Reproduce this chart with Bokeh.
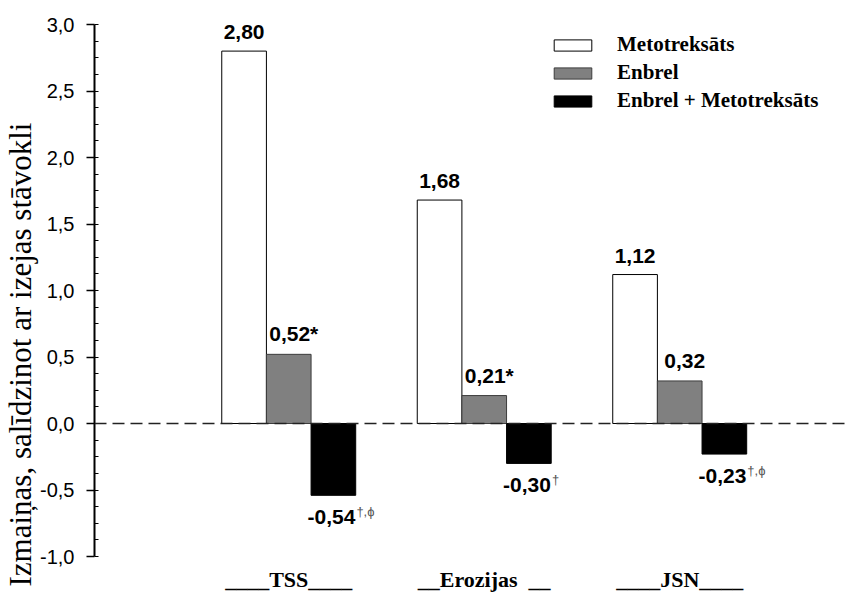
from bokeh.plotting import figure
from bokeh.models import (ColumnDataSource, Range1d, FixedTicker, LabelSet, Span,
                          Legend, LegendItem, Title)
from bokeh.core.properties import value
from bokeh.embed import file_html
from bokeh.resources import INLINE

# ---- data ----
categories = ["TSS", "Erozijas", "JSN"]
series_names = ["Metotreksāts", "Enbrel", "Enbrel + Metotreksāts"]
mtx = [2.80, 1.68, 1.12]
enbrel = [0.52, 0.21, 0.32]
combo = [-0.54, -0.30, -0.23]
mtx_labels = ["2,80", "1,68", "1,12"]
enbrel_labels = ["0,52*", "0,21*", "0,32"]
combo_labels = ["-0,54", "-0,30", "-0,23"]
combo_marks = ["†,ϕ", "†", "†,ϕ"]
y_ticks = [-1.0, -0.5, 0.0, 0.5, 1.0, 1.5, 2.0, 2.5, 3.0]
y_tick_labels = ["-1,0", "-0,5", "0,0", "0,5", "1,0", "1,5", "2,0", "2,5", "3,0"]
y_axis_title = "Izmaiņas, salīdzinot ar izejas stāvokli"

SERIF = "'Liberation Serif', 'Times New Roman', serif"

# ---- layout ----
group_x = list(range(len(categories)))
bw = 0.2284
off = [-bw, 0.0, bw]

p = figure(width=850, height=594, output_backend="svg", toolbar_location=None,
           x_range=Range1d(-0.9936, 2.8736), y_range=Range1d(-1.0, 3.0),
           min_border_left=93, min_border_right=0, min_border_top=24,
           min_border_bottom=37)
p.outline_line_color = None
p.xgrid.visible = False
p.ygrid.visible = False
p.background_fill_color = "white"
p.border_fill_color = "white"

# y axis
ya = p.yaxis[0]
ya.ticker = FixedTicker(ticks=y_ticks,
                        minor_ticks=[-1.0 + 0.125 * i for i in range(33)])
ya.major_label_overrides = {t: l for t, l in zip(y_ticks, y_tick_labels)}
ya.axis_line_width = 2
ya.axis_line_color = "black"
ya.major_tick_out = 8
ya.major_tick_in = 0
ya.major_tick_line_width = 1.5
ya.minor_tick_in = 4
ya.minor_tick_out = 0
ya.minor_tick_line_width = 1.2
ya.major_label_text_font = "Liberation Sans"
ya.major_label_text_font_size = "20px"
ya.major_label_text_color = "black"
ya.major_label_standoff = 12

# y axis title (side title so that it can start below the bottom of the axis)
p.add_layout(Title(text=y_axis_title, align="left", offset=-30, standoff=0,
                   text_font=SERIF, text_font_style="normal",
                   text_font_size="31px", text_color="black"), "left")

# x axis: category labels with rules either side
cat_text = ["____" + categories[0] + "____",
            "__" + categories[1] + "\u00a0\u00a0__",
            "____" + categories[2] + "____"]
xa = p.xaxis[0]
xa.ticker = FixedTicker(ticks=group_x, minor_ticks=[])
xa.major_label_overrides = {g: t for g, t in zip(group_x, cat_text)}
xa.axis_line_color = None
xa.major_tick_line_color = None
xa.minor_tick_line_color = None
xa.major_tick_out = 0
xa.major_tick_in = 0
xa.major_label_standoff = 10
xa.major_label_text_font = "Liberation Serif"
xa.major_label_text_font_style = "bold"
xa.major_label_text_font_size = "22px"
xa.major_label_text_color = "black"

# bars
x_m = [g + off[0] for g in group_x]
x_e = [g + off[1] for g in group_x]
x_c = [g + off[2] for g in group_x]
src_m = ColumnDataSource(dict(x=x_m, top=mtx, lab=mtx_labels))
src_e = ColumnDataSource(dict(x=x_e, top=enbrel, lab=enbrel_labels))
src_c = ColumnDataSource(dict(x=x_c, top=combo, lab=combo_labels, mark=combo_marks))

r_m = p.vbar(x="x", top="top", bottom=0, width=bw, source=src_m,
             fill_color="white", line_color="black", line_width=1)
r_e = p.vbar(x="x", top="top", bottom=0, width=bw, source=src_e,
             fill_color="#808080", line_color="#3c3c3c", line_width=1)
r_c = p.vbar(x="x", top="top", bottom=0, width=bw, source=src_c,
             fill_color="black", line_color="black", line_width=1)

# zero line
p.add_layout(Span(location=0, dimension="width", line_color="#222222",
                  line_width=1.6, line_dash="12 6"))

# value labels
lab_kw = dict(text_font=value("Liberation Sans"), text_font_style="bold",
              text_font_size="21px", text_color="black")
p.add_layout(LabelSet(x="x", y="top", text="lab", source=src_m, text_align="center",
                      text_baseline="alphabetic", y_offset=12, **lab_kw))
p.add_layout(LabelSet(x="x", y="top", text="lab", source=src_e, text_align="center",
                      text_baseline="alphabetic", y_offset=13, x_offset=5, **lab_kw))
p.add_layout(LabelSet(x="x", y="top", text="lab", source=src_c, text_align="right",
                      text_baseline="alphabetic", y_offset=-29, x_offset=22, **lab_kw))
p.add_layout(LabelSet(x="x", y="top", text="mark", source=src_c, text_align="left",
                      text_baseline="alphabetic", y_offset=-21, x_offset=23,
                      text_font=value("Liberation Sans"), text_font_size="13px",
                      text_color="#555555"))

# legend
legend = Legend(items=[LegendItem(label=series_names[0], renderers=[r_m]),
                       LegendItem(label=series_names[1], renderers=[r_e]),
                       LegendItem(label=series_names[2], renderers=[r_c])],
                location=(455, 443), orientation="vertical",
                glyph_width=47, glyph_height=14, label_height=14,
                label_standoff=21, spacing=3, padding=0, margin=0,
                border_line_alpha=0, background_fill_alpha=0,
                label_text_font="Liberation Serif", label_text_font_style="bold",
                label_text_font_size="21px", label_text_color="black")
p.add_layout(legend)

open("out.html", "w").write(file_html(p, INLINE))
